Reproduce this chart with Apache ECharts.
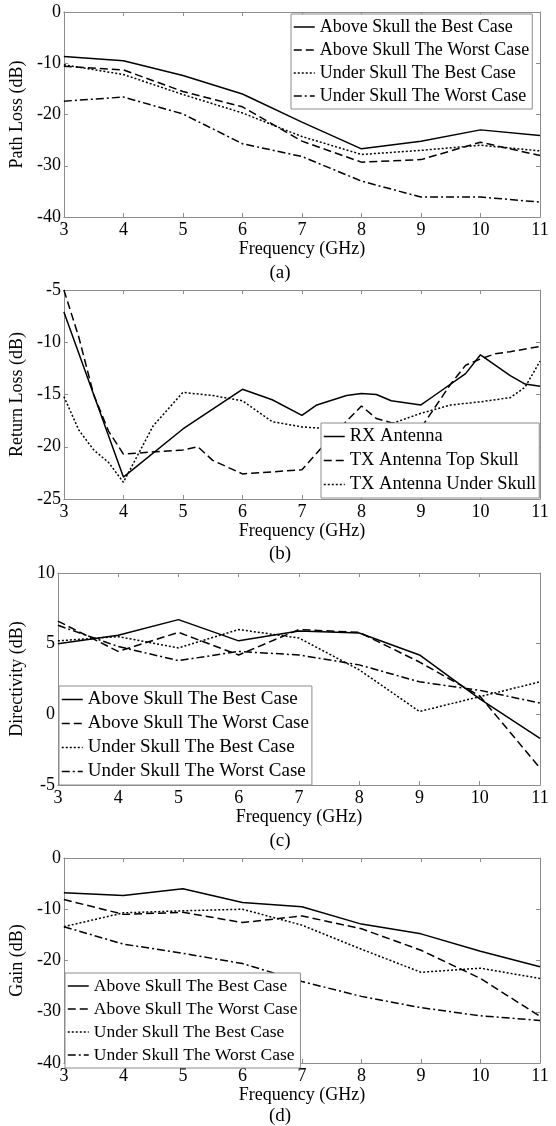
<!DOCTYPE html>
<html>
<head>
<meta charset="utf-8">
<script src="https://cdn.jsdelivr.net/npm/echarts@6/dist/echarts.min.js"></script>
<style>
  html, body { margin: 0; padding: 0; background: #fff; }
  #chart { width: 556px; height: 1126px; }
</style>
</head>
<body>
<div id="chart"></div>
<script>
// frequency points (GHz) used by panels a, c, d
const freq = [3, 4, 5, 6, 7, 8, 9, 10, 11];
const freqTicks = [3, 4, 5, 6, 7, 8, 9, 10, 11];

// (a) path loss, dB
const plAboveBest  = [-8.7, -9.5, -12.4, -16.0, -21.5, -26.7, -25.2, -23.0, -24.1];
const plAboveWorst = [-10.6, -11.3, -15.5, -18.5, -25.2, -29.3, -28.8, -25.4, -28.0];
const plUnderBest  = [-10.3, -12.2, -16.1, -19.7, -24.3, -27.8, -27.0, -26.0, -27.1];
const plUnderWorst = [-17.4, -16.6, -19.9, -25.7, -28.2, -33.0, -36.1, -36.1, -37.1];
const plTicks = [-40, -30, -20, -10, 0];

// (b) return loss, dB (finer frequency steps)
const rxFreq = [3, 4, 5, 6, 6.5, 7, 7.25, 7.75, 8, 8.25, 8.5, 9, 9.25, 9.75, 10, 10.5, 10.75, 11];
const rxLoss = [-7.1, -22.9, -18.3, -14.5, -15.5, -17.0, -16.0, -15.1, -14.9, -15.0, -15.6, -16.0, -15.0, -13.0, -11.2, -13.2, -14.0, -14.2];
const txTopFreq = [3, 3.25, 3.5, 3.75, 4, 5, 5.25, 5.5, 6, 7, 7.5, 8, 8.25, 8.5, 9, 9.5, 9.75, 10, 10.25, 10.5, 11];
const txTopLoss = [-5.0, -9.5, -15.0, -18.5, -20.7, -20.3, -20.0, -21.3, -22.6, -22.2, -19.0, -16.1, -17.3, -17.7, -18.2, -14.0, -12.2, -11.6, -11.1, -10.9, -10.4];
const txUnderFreq = [3, 3.25, 3.5, 3.75, 4, 4.5, 5, 5.5, 6, 6.5, 7, 7.5, 8, 8.5, 9, 9.5, 10, 10.5, 10.75, 11];
const txUnderLoss = [-15.2, -18.4, -20.3, -21.5, -23.4, -18.0, -14.8, -15.1, -15.6, -17.6, -18.1, -18.3, -18.1, -17.8, -16.8, -16.0, -15.7, -15.3, -14.3, -11.8];
const rlTicks = [-25, -20, -15, -10, -5];

// (c) directivity, dB
const dirAboveBest  = [5.0, 5.6, 6.7, 5.2, 5.9, 5.75, 4.2, 1.1, -1.7];
const dirAboveWorst = [6.6, 4.45, 5.8, 4.2, 6.0, 5.8, 3.7, 1.3, -3.8];
const dirUnderBest  = [5.2, 5.5, 4.7, 6.0, 5.4, 3.15, 0.2, 1.25, 2.3];
const dirUnderWorst = [6.3, 4.8, 3.8, 4.45, 4.2, 3.5, 2.3, 1.7, 0.8];
const dirTicks = [-5, 0, 5, 10];

// (d) gain, dB
const gainAboveBest  = [-6.8, -7.3, -6.0, -8.7, -9.5, -12.9, -14.8, -18.2, -21.2];
const gainAboveWorst = [-8.1, -11.0, -10.6, -12.6, -11.3, -13.8, -18.0, -23.5, -30.9];
const gainUnderBest  = [-13.4, -10.7, -10.3, -10.0, -13.1, -17.8, -22.3, -21.5, -23.5];
const gainUnderWorst = [-13.4, -16.8, -18.6, -20.6, -24.1, -27.0, -29.2, -30.8, -31.7];
const gainTicks = [-40, -30, -20, -10, 0];

const FONT = 'Liberation Serif';
const AXIS_GRAY = '#8c8c8c';

// line dash patterns (MATLAB style)
const DASH = {
  solid: 'solid',
  dashed: [8, 4],
  dotted: [2, 2],
  dashdot: [8, 3, 2, 3]
};

const chart = echarts.init(document.getElementById('chart'));

// panel layout
const panels = [
  { grid: { left: 61, top: 12, width: 479, height: 205 }, ticks: plTicks, yName: 'Path Loss (dB)', nameGap: 27, caption: '(a)', capY: 273 },
  { grid: { left: 61, top: 290, width: 479, height: 209 }, ticks: rlTicks, yName: 'Return Loss (dB)', nameGap: 27, caption: '(b)', capY: 554 },
  { grid: { left: 56, top: 573, width: 484, height: 212 }, ticks: dirTicks, yName: 'Directivity (dB)', nameGap: 23, caption: '(c)', capY: 841 },
  { grid: { left: 61, top: 858, width: 479, height: 205 }, ticks: gainTicks, yName: 'Gain (dB)', nameGap: 27, caption: '(d)', capY: 1116 }
];

const xAxes = [];
const yAxes = [];
// bottom / left axes with labels
panels.forEach((p, i) => {
  xAxes.push({
    type: 'value', gridIndex: i, position: 'bottom',
    min: freqTicks[0], max: freqTicks[freqTicks.length - 1], interval: freqTicks[1] - freqTicks[0],
    name: 'Frequency (GHz)', nameLocation: 'middle', nameGap: 23,
    nameTextStyle: { fontFamily: FONT, fontSize: 18, color: '#000' },
    axisLine: { onZero: false, lineStyle: { color: AXIS_GRAY, width: 1 } },
    axisTick: { inside: true, length: 4, lineStyle: { color: AXIS_GRAY } },
    axisLabel: { fontFamily: FONT, fontSize: 18, color: '#000', margin: 4 },
    splitLine: { show: false }
  });
  yAxes.push({
    type: 'value', gridIndex: i, position: 'left',
    min: p.ticks[0], max: p.ticks[p.ticks.length - 1], interval: p.ticks[1] - p.ticks[0],
    name: p.yName, nameLocation: 'middle', nameGap: p.nameGap,
    nameTextStyle: { fontFamily: FONT, fontSize: 18, color: '#000' },
    axisLine: { onZero: false, lineStyle: { color: AXIS_GRAY, width: 1 } },
    axisTick: { inside: true, length: 4, lineStyle: { color: AXIS_GRAY } },
    axisLabel: { fontFamily: FONT, fontSize: 18, color: '#000', margin: 3 },
    splitLine: { show: false }
  });
});
// top / right axes only for the box and ticks
panels.forEach((p, i) => {
  xAxes.push({
    type: 'value', gridIndex: i, position: 'top',
    min: freqTicks[0], max: freqTicks[freqTicks.length - 1], interval: freqTicks[1] - freqTicks[0],
    axisLine: { onZero: false, lineStyle: { color: AXIS_GRAY, width: 1 } },
    axisTick: { inside: true, length: 4, lineStyle: { color: AXIS_GRAY } },
    axisLabel: { show: false },
    splitLine: { show: false }
  });
  yAxes.push({
    type: 'value', gridIndex: i, position: 'right',
    min: p.ticks[0], max: p.ticks[p.ticks.length - 1], interval: p.ticks[1] - p.ticks[0],
    axisLine: { onZero: false, lineStyle: { color: AXIS_GRAY, width: 1 } },
    axisTick: { inside: true, length: 4, lineStyle: { color: AXIS_GRAY } },
    axisLabel: { show: false },
    splitLine: { show: false }
  });
});

const zip = (xs, ys) => xs.map((x, k) => [x, ys[k]]);

function line(name, panel, xs, ys, dash) {
  return {
    type: 'line', name: name,
    xAxisIndex: panel, yAxisIndex: panel,
    data: zip(xs, ys),
    symbol: 'none',
    color: '#000',
    lineStyle: { color: '#000', width: 1.5, type: dash },
    silent: true
  };
}

const series = [
  line('Above Skull the Best Case', 0, freq, plAboveBest, DASH.solid),
  line('Above Skull The Worst Case', 0, freq, plAboveWorst, DASH.dashed),
  line('Under Skull The Best Case', 0, freq, plUnderBest, DASH.dotted),
  line('Under Skull The Worst Case', 0, freq, plUnderWorst, DASH.dashdot),

  line('RX Antenna', 1, rxFreq, rxLoss, DASH.solid),
  line('TX Antenna Top Skull', 1, txTopFreq, txTopLoss, DASH.dashed),
  line('TX Antenna Under Skull', 1, txUnderFreq, txUnderLoss, DASH.dotted),

  line('Above Skull The Best Case', 2, freq, dirAboveBest, DASH.solid),
  line('Above Skull The Worst Case', 2, freq, dirAboveWorst, DASH.dashed),
  line('Under Skull The Best Case', 2, freq, dirUnderBest, DASH.dotted),
  line('Under Skull The Worst Case', 2, freq, dirUnderWorst, DASH.dashdot),

  line('Above Skull The Best Case', 3, freq, gainAboveBest, DASH.solid),
  line('Above Skull The Worst Case', 3, freq, gainAboveWorst, DASH.dashed),
  line('Under Skull The Best Case', 3, freq, gainUnderBest, DASH.dotted),
  line('Under Skull The Worst Case', 3, freq, gainUnderWorst, DASH.dashdot)
];

function legendBox(left, top, fontSize, names) {
  return {
    orient: 'vertical', left: left, top: top,
    padding: [4, 3, 4, 2], itemGap: 5, itemWidth: 21, itemHeight: 10,
    backgroundColor: '#fff', borderColor: AXIS_GRAY, borderWidth: 1, borderRadius: 0,
    selectedMode: false,
    itemStyle: { opacity: 0 },
    lineStyle: { width: 1.5 },
    textStyle: { fontFamily: FONT, fontSize: fontSize, color: '#000' },
    data: names
  };
}

const option = {
  animation: false,
  backgroundColor: '#fff',
  textStyle: { fontFamily: FONT },
  grid: panels.map(p => p.grid),
  xAxis: xAxes,
  yAxis: yAxes,
  legend: [
    legendBox(291, 14, 18, ['Above Skull the Best Case', 'Above Skull The Worst Case', 'Under Skull The Best Case', 'Under Skull The Worst Case']),
    legendBox(321, 423, 18.5, ['RX Antenna', 'TX Antenna Top Skull', 'TX Antenna Under Skull']),
    legendBox(59, 686, 19, ['Above Skull The Best Case', 'Above Skull The Worst Case', 'Under Skull The Best Case', 'Under Skull The Worst Case']),
    legendBox(65, 973, 17.5, ['Above Skull The Best Case', 'Above Skull The Worst Case', 'Under Skull The Best Case', 'Under Skull The Worst Case'])
  ],
  graphic: panels.map(p => ({
    type: 'text', x: 280, y: p.capY,
    style: { text: p.caption, fontFamily: FONT, fontSize: 19, fill: '#000', align: 'center', verticalAlign: 'middle' }
  })),
  series: series
};

chart.setOption(option);
</script>
</body>
</html>
